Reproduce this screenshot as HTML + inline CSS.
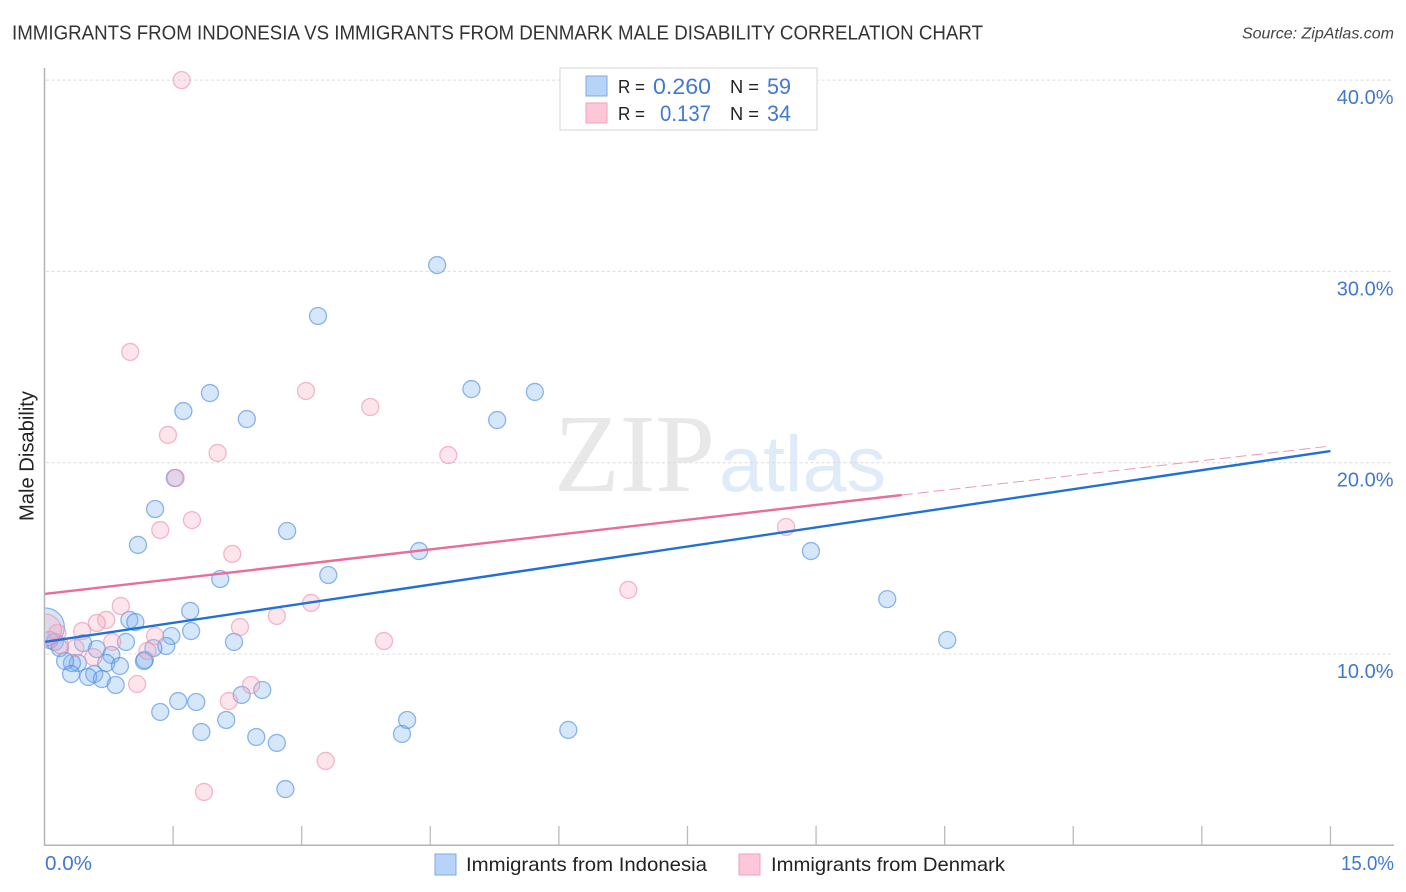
<!DOCTYPE html>
<html lang="en">
<head>
<meta charset="utf-8">
<title>Immigrants from Indonesia vs Immigrants from Denmark Male Disability Correlation Chart</title>
<style>
html,body{margin:0;padding:0;background:#fff;}
svg{display:block;font-family:"Liberation Sans",sans-serif;}
</style>
</head>
<body>
<svg id="chart" xmlns="http://www.w3.org/2000/svg" width="1406" height="892" viewBox="0 0 1406 892">
  <rect x="0" y="0" width="1406" height="892" fill="#fff"/>

  <text x="12" y="39.5" font-size="20" fill="#333" textLength="971" lengthAdjust="spacingAndGlyphs">IMMIGRANTS FROM INDONESIA VS IMMIGRANTS FROM DENMARK MALE DISABILITY CORRELATION CHART</text>
  <text x="1394" y="38.5" font-size="16" font-style="italic" fill="#444" text-anchor="end">Source: ZipAtlas.com</text>

  <g>
    <text x="554" y="491" font-family="'Liberation Serif',serif" font-size="111" fill="#e8e8e8" textLength="161" lengthAdjust="spacingAndGlyphs">ZIP</text>
    <text x="719" y="491" font-size="79" fill="#e0ebfa" textLength="167" lengthAdjust="spacingAndGlyphs">atlas</text>
  </g>

  <g id="grid"></g>
  <g id="points"></g>
  <rect x="0" y="60" width="45.5" height="790" fill="#fff"/>
  <g id="trends"></g>
  <g id="axes"></g>
  <g id="ylabels"></g>

  <text transform="translate(33.5,456) rotate(-90)" font-size="20" fill="#222" text-anchor="middle" textLength="130" lengthAdjust="spacingAndGlyphs">Male Disability</text>
  <text x="45" y="870" font-size="20" fill="#4178d4" textLength="47" lengthAdjust="spacingAndGlyphs">0.0%</text>
  <text x="1341" y="870" font-size="20" fill="#4178d4" textLength="53" lengthAdjust="spacingAndGlyphs">15.0%</text>

  <g>
    <rect x="560" y="68" width="257" height="62" fill="#fff" stroke="#ddd" stroke-width="1.2"/>
    <rect x="586" y="76" width="21" height="20" fill="#b8d3f8" stroke="#7fa9e0" stroke-width="1"/>
    <rect x="586" y="103" width="21" height="20" fill="#fcc8d8" stroke="#f0a0bb" stroke-width="1"/>
    <text x="618" y="93" font-size="18" fill="#222" textLength="27" lengthAdjust="spacingAndGlyphs">R =</text>
    <text x="653" y="94" font-size="22" fill="#4178d4" textLength="58" lengthAdjust="spacingAndGlyphs">0.260</text>
    <text x="730" y="93" font-size="18" fill="#222" textLength="29" lengthAdjust="spacingAndGlyphs">N =</text>
    <text x="767" y="94" font-size="22" fill="#4178d4" textLength="24" lengthAdjust="spacingAndGlyphs">59</text>
    <text x="618" y="120" font-size="18" fill="#222" textLength="27" lengthAdjust="spacingAndGlyphs">R =</text>
    <text x="660" y="121" font-size="22" fill="#4178d4" textLength="51" lengthAdjust="spacingAndGlyphs">0.137</text>
    <text x="730" y="120" font-size="18" fill="#222" textLength="29" lengthAdjust="spacingAndGlyphs">N =</text>
    <text x="767" y="121" font-size="22" fill="#4178d4" textLength="24" lengthAdjust="spacingAndGlyphs">34</text>
  </g>

  <g>
    <rect x="435" y="854" width="21" height="21" fill="#b8d3f8" stroke="#7fa9e0" stroke-width="1"/>
    <text x="466" y="871" font-size="19.5" fill="#222" textLength="241" lengthAdjust="spacingAndGlyphs">Immigrants from Indonesia</text>
    <rect x="739" y="854" width="21" height="21" fill="#fcc8d8" stroke="#f0a0bb" stroke-width="1"/>
    <text x="771" y="871" font-size="19.5" fill="#222" textLength="234" lengthAdjust="spacingAndGlyphs">Immigrants from Denmark</text>
  </g>
</svg>

<script>
// Chart data (percent values). The last point in each series is the large-sample point.
const xTickValues = [0, 1.5, 3, 4.5, 6, 7.5, 9, 10.5, 12, 13.5, 15];
const yTickValues = [10, 20, 30, 40];
const yTickLabels = ['10.0%', '20.0%', '30.0%', '40.0%'];

const indonesiaX = [4.58,3.19,4.98,5.72,1.93,1.62,2.36,5.28,1.52,1.29,2.83,1.09,4.37,8.94,3.31,2.05,9.83,1.70,0.99,1.06,1.71,1.48,10.53,2.21,0.95,1.42,1.27,0.61,0.78,0.45,0.12,0.06,0.18,1.17,1.16,0.72,0.88,0.39,0.32,0.24,0.31,0.58,0.51,0.67,0.83,2.54,2.30,1.56,1.77,1.35,2.12,4.23,4.17,6.11,1.83,2.47,2.71,2.81,0.01];
const indonesiaY = [30.33,27.67,23.85,23.70,23.64,22.70,22.28,22.23,19.20,17.58,16.43,15.70,15.38,15.38,14.13,13.92,12.87,12.25,11.78,11.67,11.20,10.94,10.73,10.63,10.63,10.42,10.31,10.26,9.95,10.57,10.63,10.73,10.31,9.69,9.63,9.53,9.37,9.53,9.53,9.63,8.95,8.95,8.80,8.69,8.38,8.12,7.86,7.54,7.49,6.97,6.55,6.55,5.82,6.03,5.92,5.66,5.35,2.94,11.41];

const denmarkX = [1.60,1.00,3.05,3.80,1.44,2.02,4.71,1.53,1.72,1.35,2.19,8.65,6.81,3.96,0.89,0.72,0.61,0.44,1.29,2.28,2.71,3.11,0.79,1.20,0.57,0.36,1.08,2.41,2.15,3.28,1.86,0.15,0.18,0.01];
const denmarkY = [40.0,25.79,23.75,22.91,21.45,20.51,20.40,19.20,17.00,16.48,15.23,16.64,13.35,10.68,12.51,11.78,11.62,11.20,10.94,11.41,11.99,12.67,10.63,10.16,9.84,10.31,8.43,8.38,7.54,4.41,2.79,11.10,10.47,11.25];

const indonesiaTrendX = [0, 15];
const indonesiaTrendY = [10.63, 20.61];
const denmarkTrendX = [0, 10];
const denmarkTrendY = [13.14, 18.31];
const denmarkForecastX = [10, 15];
const denmarkForecastY = [18.31, 20.87];

const NS = 'http://www.w3.org/2000/svg';
const xScale = function (v) { return 44.5 + v * 85.73; };
const yScale = function (v) { return 654 - (v - 10) * 19.13; };

function make(tag, attrs, parent) {
  const el = document.createElementNS(NS, tag);
  Object.keys(attrs).forEach(function (k) { el.setAttribute(k, attrs[k]); });
  parent.appendChild(el);
  return el;
}

const grid = document.getElementById('grid');
const axes = document.getElementById('axes');
const ylabels = document.getElementById('ylabels');
const points = document.getElementById('points');
const trends = document.getElementById('trends');

yTickValues.forEach(function (v, i) {
  const line = make('line', {x1: 46, x2: 1393, y1: yScale(v), y2: yScale(v), stroke: '#dcdcdc', 'stroke-width': 1, 'stroke-dasharray': '3 2.5'}, grid);
  
  
  const label = make('text', {x: 1393.5, y: yScale(v) + 24, 'font-size': 20, fill: '#4178d4', 'text-anchor': 'end'}, ylabels);
  
  
  label.textContent = yTickLabels[i];
});

const yAxisLine = make('line', {x1: 44.5, x2: 44.5, y1: 68, y2: 845.5, stroke: '#b4b4b4', 'stroke-width': 1.5}, axes);


const xAxisLine = make('line', {x1: 44, x2: 1394, y1: 845.3, y2: 845.3, stroke: '#b4b4b4', 'stroke-width': 1.5}, axes);


xTickValues.slice(1).forEach(function (v) {
  const tick = make('line', {x1: xScale(v), x2: xScale(v), y1: 826, y2: 845, stroke: '#bbbbbb', 'stroke-width': 1.3}, axes);
  
  
});

function drawSeries(xs, ys, fill, stroke, largeR, fillOpacity, strokeOpacity) {
  xs.forEach(function (x, i) {
    const r = i === xs.length - 1 ? largeR : 8.5;
    const c = make('circle', {cx: xScale(x), cy: yScale(ys[i]), r: r, fill: fill, 'fill-opacity': fillOpacity, stroke: stroke, 'stroke-opacity': strokeOpacity, 'stroke-width': 1.3}, points);
    
    
  });
}
drawSeries(indonesiaX, indonesiaY, '#7aaef0', '#4a8de0', 19, 0.3, 0.62);
drawSeries(denmarkX, denmarkY, '#f9adc4', '#ec8aab', 16, 0.32, 0.6);

function drawTrend(xs, ys, color, width, dash, name) {
  const line = make('line', {x1: xScale(xs[0]), y1: yScale(ys[0]), x2: xScale(xs[1]), y2: yScale(ys[1]), stroke: color, 'stroke-width': width}, trends);
  if (dash) { line.setAttribute('stroke-dasharray', dash); }
  
  
}
drawTrend(denmarkTrendX, denmarkTrendY, '#e96d98', 2.4, null, 'trend-line-denmark');
drawTrend(denmarkForecastX, denmarkForecastY, '#eb9ab5', 1, '11 5', 'trend-forecast-denmark');
drawTrend(indonesiaTrendX, indonesiaTrendY, '#2070d8', 2.4, null, 'trend-line-indonesia');
</script>
</body>
</html>
